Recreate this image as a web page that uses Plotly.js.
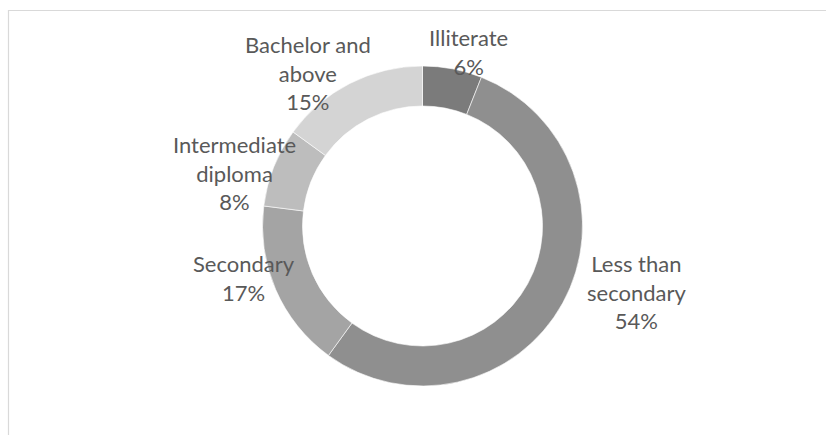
<!DOCTYPE html>
<html>
<head>
<meta charset="utf-8">
<script src="https://cdn.plot.ly/plotly-3.0.1.min.js"></script>
<style>
  html, body { margin: 0; padding: 0; background: #ffffff; }
  #chart { width: 826px; height: 435px; }
</style>
</head>
<body>
<div id="chart"></div>
<script>
// ---- data ----
const categories = ["Illiterate", "Less than secondary", "Secondary", "Intermediate diploma", "Bachelor and above"];
const values = [6, 54, 17, 8, 15];
const colors = ["#7b7b7b", "#8f8f8f", "#a4a4a4", "#bdbdbd", "#d4d4d4"];

// ---- layout constants (pixels) ----
const W = 826, H = 435;
const cx = 422.5, cy = 226, R = 160;
// label block centres (px), one per category, in the same order
const labelPos = [[468, 52], [636, 292], [244, 278], [234, 173], [308, 73]];

function wrap(s, maxLen) {
  const words = s.split(" ");
  const lines = [];
  let cur = "";
  for (const w of words) {
    if (cur && (cur + " " + w).length > maxLen) { lines.push(cur); cur = w; }
    else { cur = cur ? cur + " " + w : w; }
  }
  if (cur) lines.push(cur);
  return lines.join("<br>");
}

const total = values.reduce((a, b) => a + b, 0);
const annotations = categories.map((c, i) => ({
  xref: "paper", yref: "paper",
  x: labelPos[i][0] / W, y: 1 - labelPos[i][1] / H,
  xanchor: "center", yanchor: "middle",
  text: wrap(c, 12) + "<br>" + Math.round(values[i] / total * 100) + "%",
  showarrow: false,
  align: "center",
  font: { family: "Lato, 'Open Sans', sans-serif", size: 22, color: "#595959" }
}));

const trace = {
  type: "pie",
  labels: categories,
  values: values,
  sort: false,
  direction: "clockwise",
  rotation: 0,
  hole: 0.75,
  textinfo: "none",
  hoverinfo: "none",
  marker: { colors: colors, line: { color: "#ffffff", width: 0.6 } },
  domain: { x: [(cx - R) / W, (cx + R) / W], y: [(H - cy - R) / H, (H - cy + R) / H] },
  showlegend: false
};

const layout = {
  width: W, height: H,
  margin: { l: 0, r: 0, t: 0, b: 0 },
  paper_bgcolor: "#ffffff",
  plot_bgcolor: "#ffffff",
  showlegend: false,
  annotations: annotations,
  shapes: [{
    type: "rect", xref: "paper", yref: "paper",
    x0: 8.5 / W, x1: 1.2, y0: -0.2, y1: 1 - 10.5 / H,
    line: { color: "#d9d9d9", width: 1.2 }, fillcolor: "rgba(0,0,0,0)", layer: "below"
  }]
};

Plotly.newPlot("chart", [trace], layout, { staticPlot: true, displayModeBar: false });
</script>
</body>
</html>
